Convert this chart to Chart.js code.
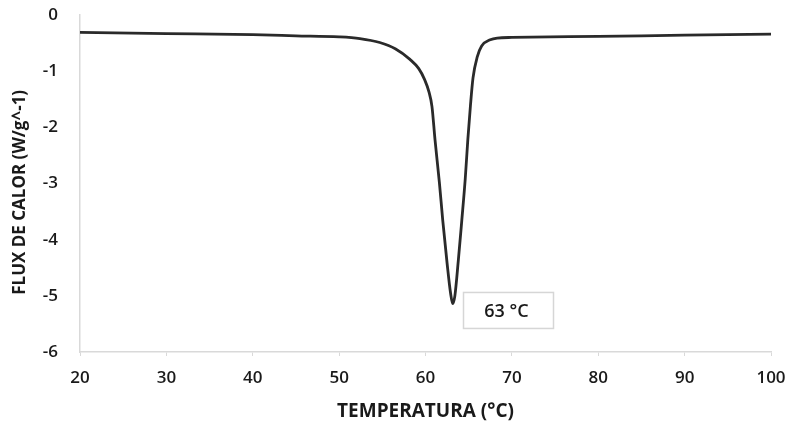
<!DOCTYPE html>
<html>
<head>
<meta charset="utf-8">
<script src="https://cdn.jsdelivr.net/npm/chart.js@4"></script>
<style>
  html, body { margin: 0; padding: 0; background: #fff; }
  #wrap { width: 788px; height: 429px; }
</style>
</head>
<body>
<div id="wrap"><canvas id="dsc"></canvas></div>
<script>
// temperature (°C) and heat flux (W/g)
const temps = [20, 30, 40, 45, 50, 52.4, 54.7, 56.5, 58.2, 59.2, 59.9, 60.4, 60.75, 61.1, 61.6, 62.0, 62.5, 62.9, 63.15, 63.4, 63.8, 64.2, 64.6, 64.9, 65.2, 65.5, 66.0, 66.5, 67.5, 68.3, 70, 80, 90, 100];
const flux  = [-0.31, -0.33, -0.35, -0.37, -0.39, -0.42, -0.49, -0.60, -0.79, -0.95, -1.15, -1.37, -1.63, -2.22, -2.97, -3.66, -4.42, -4.95, -5.14, -5.00, -4.37, -3.66, -2.92, -2.22, -1.62, -1.12, -0.74, -0.55, -0.44, -0.41, -0.40, -0.38, -0.36, -0.34];
const xTicks = [20, 30, 40, 50, 60, 70, 80, 90, 100];
const yTicks = [0, -1, -2, -3, -4, -5, -6];
const peakLabel = '63 °C';
const peakTemp = 63;

const points = temps.map((t, i) => ({ x: t, y: flux[i] }));
const FONT = "'Open Sans', 'Liberation Sans', sans-serif";

// draws the boxed peak label next to the minimum
const peakBox = {
    id: 'peakBox',
    afterDatasetsDraw(chart) {
        const { ctx, scales } = chart;
        const left = scales.x.getPixelForValue(peakTemp + 1.4);
        const top = scales.y.getPixelForValue(-4.94);
        const w = 90, h = 36;
        ctx.save();
        ctx.strokeStyle = '#d6d6d6';
        ctx.lineWidth = 1.5;
        ctx.strokeRect(left, top, w, h);
        ctx.fillStyle = '#1a1a1a';
        ctx.font = "600 18px " + FONT;
        ctx.textAlign = 'center';
        ctx.textBaseline = 'middle';
        ctx.fillText(peakLabel, left + w / 2 - 2, top + h / 2 + 1);
        ctx.restore();
    }
};

new Chart(document.getElementById('dsc'), {
    type: 'scatter',
    data: {
        datasets: [{
            data: points,
            showLine: true,
            borderColor: '#2a2a2a',
            borderWidth: 2.8,
            pointRadius: 0,
            cubicInterpolationMode: 'monotone'
        }]
    },
    options: {
        responsive: true,
        maintainAspectRatio: false,
        animation: false,
        layout: { padding: { top: 0, right: 0, left: 6, bottom: 2 } },
        plugins: { legend: { display: false }, tooltip: { enabled: false } },
        scales: {
            x: {
                type: 'linear',
                min: 20, max: 100,
                afterBuildTicks: axis => { axis.ticks = xTicks.map(v => ({ value: v })); },
                afterFit: axis => { axis.height = 75; axis.paddingRight = 17; axis.paddingLeft = 0; },
                grid: { drawOnChartArea: false, drawTicks: true, tickLength: 4, color: '#d9d9d9' },
                border: { display: true, color: '#d9d9d9', width: 1.5 },
                ticks: { color: '#1a1a1a', padding: 12, font: { family: FONT, size: 17, weight: '600' } },
                title: {
                    display: true,
                    text: 'TEMPERATURA (°C)',
                    color: '#1a1a1a',
                    padding: { top: 4 },
                    font: { family: FONT, size: 19, weight: '700' }
                }
            },
            y: {
                min: -6, max: 0,
                afterBuildTicks: axis => { axis.ticks = yTicks.map(v => ({ value: v })); },
                afterFit: axis => { axis.width = 74; axis.paddingTop = 15; axis.paddingBottom = 0; },
                grid: { display: false },
                border: { display: true, color: '#d9d9d9', width: 1.5 },
                ticks: { color: '#1a1a1a', padding: 14, font: { family: FONT, size: 17, weight: '600' } },
                title: {
                    display: true,
                    text: 'FLUX DE CALOR (W/g^-1)\u00a0\u00a0\u00a0\u00a0',
                    color: '#1a1a1a',
                    padding: { bottom: 2 },
                    font: { family: FONT, size: 17, weight: '700' }
                }
            }
        }
    },
    plugins: [peakBox]
});
</script>
</body>
</html>
